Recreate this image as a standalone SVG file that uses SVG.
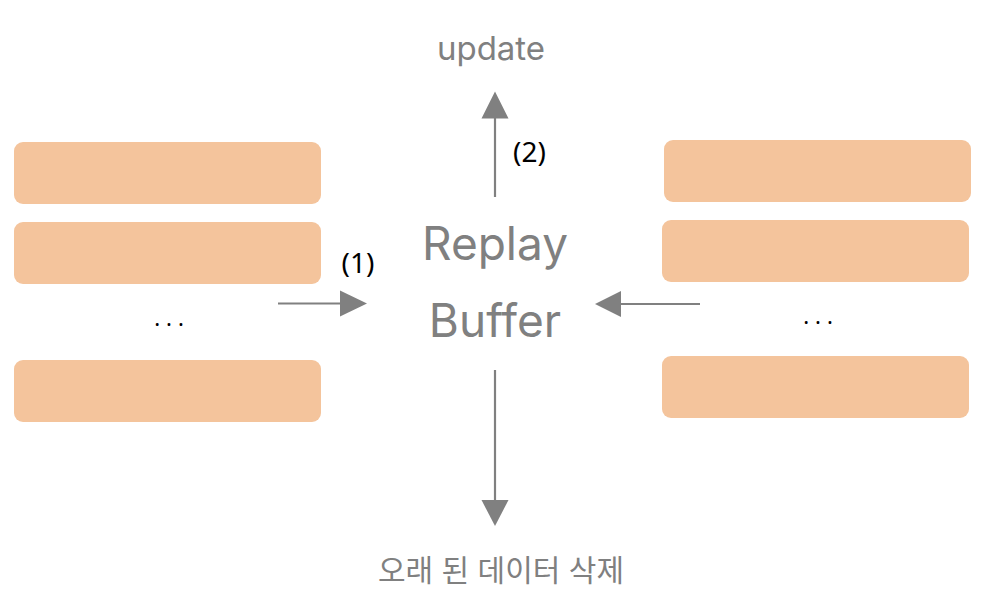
<svg xmlns="http://www.w3.org/2000/svg" width="986" height="598" viewBox="0 0 986 598">
<style>
.box{fill:#F4C49C}
.conn{stroke:#808080;stroke-width:2.2;fill:none}
.head{fill:#808080}
.g{fill:#808080;font-family:Inter,"Noto Sans","Noto Sans CJK KR",sans-serif;text-anchor:middle}
.k{fill:#000;font-family:"Noto Sans","Noto Sans CJK KR",sans-serif;text-anchor:middle}
.dots{fill:#000;font-family:"Noto Sans",sans-serif;font-size:22px;letter-spacing:6px;text-anchor:middle}
</style>
<rect width="986" height="598" fill="#fff"/>
<g id="left-1"><rect class="box" x="14" y="142" width="307" height="62" rx="9"/></g>
<g id="left-2"><rect class="box" x="14" y="222" width="307" height="62" rx="9"/></g>
<g id="left-dots"><text class="dots" x="172" y="326">...</text></g>
<g id="left-3"><rect class="box" x="14" y="360" width="307" height="62" rx="9"/></g>
<g id="right-1"><rect class="box" x="664" y="140" width="307" height="62" rx="9"/></g>
<g id="right-2"><rect class="box" x="662" y="220" width="307" height="62" rx="9"/></g>
<g id="right-dots"><text class="dots" x="821" y="324">...</text></g>
<g id="right-3"><rect class="box" x="662" y="356" width="307" height="62" rx="9"/></g>
<g id="buffer">
<text class="g" x="495" y="260" font-size="46">Replay</text>
<text class="g" x="495" y="337" font-size="46">Buffer</text>
</g>
<g id="update"><text class="g" x="491" y="60" font-size="33">update</text></g>
<g id="delete"><text class="g" x="501" y="581" font-size="30">오래 된 데이터 삭제</text></g>
<g id="connectors">
<line class="conn" x1="278" y1="303.5" x2="342" y2="303.5"/>
<polygon class="head" points="367,303.5 340,290.5 340,316.5"/>
<line class="conn" x1="700" y1="304" x2="620" y2="304"/>
<polygon class="head" points="595,304 621,291 621,317"/>
<line class="conn" x1="495" y1="197" x2="495" y2="116"/>
<polygon class="head" points="495,91.5 481.5,118.5 508.5,118.5"/>
<line class="conn" x1="495" y1="370" x2="495" y2="502"/>
<polygon class="head" points="495,526 481.5,500 508.5,500"/>
<text class="k" x="358" y="273" font-size="28">(1)</text>
<text class="k" x="529.5" y="162" font-size="28">(2)</text>
</g>
</svg>
